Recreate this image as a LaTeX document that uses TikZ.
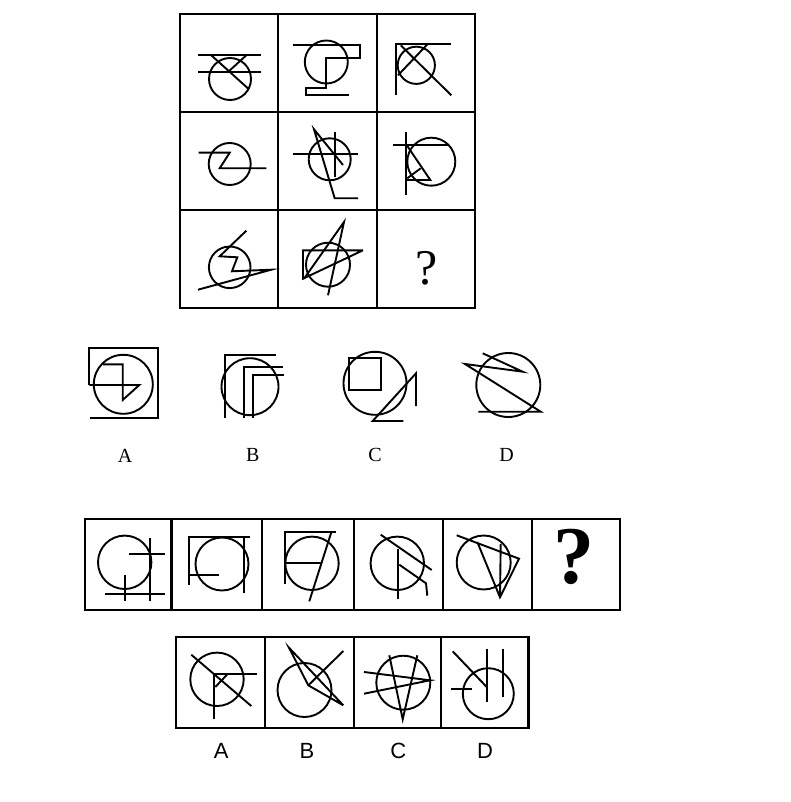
\documentclass[tikz,border=0pt]{standalone}
\usepackage{fontspec}
\setmainfont{Liberation Serif}
\newfontfamily\sansfam{Liberation Sans}
\tikzset{
	fig/.style={line width=1.9pt},
	cadre/.style={line width=2.1pt},
	etiq/.style={font=\fontsize{20}{24}\selectfont},
	etiqsans/.style={font=\sansfam\fontsize{22}{26}\selectfont}
}
\begin{document}
\begin{tikzpicture}[x=1pt,y=-1pt,line join=miter]
\useasboundingbox[fill=white] (0,0) rectangle (790,802);
%					Grille 3x3 :
\draw[cadre] (180,14) rectangle (475,308);
\foreach \x in {278.3,376.7} \draw[cadre] (\x,14) -- (\x,308);
\foreach \y in {112,210} \draw[cadre] (180,\y) -- (475,\y);
%					Ligne 1 :
\draw[fig] (230,79) circle (21);
\draw[fig] (198,55.3) -- (261,55.3);
\draw[fig] (198,72) -- (261,72);
\draw[fig] (211.3,55.3) -- (249,89.3);
\draw[fig] (246.3,55.3) -- (228,72);
\draw[fig] (326.3,62) circle (21.5);
\draw[fig] (293,45.3) -- (359.7,45.3) -- (359.7,57.7) -- (326.3,57.7) -- (326.3,88) -- (305.7,88) -- (305.7,95.3) -- (348.7,95.3);
\draw[fig] (416.3,65.3) circle (18.6);
\draw[fig] (396.3,95.3) -- (396.3,43.7) -- (451.3,43.7);
\draw[fig] (400.7,45.3) -- (451.3,95.3);
\draw[fig] (428,43.7) -- (398,75.3);
%					Ligne 2 :
\draw[fig] (229.7,164) circle (21);
\draw[fig] (198.7,152.7) -- (229.7,152.7) -- (219.7,168.3) -- (266.3,168.3);
\draw[fig] (329.7,159.3) circle (21);
\draw[fig] (293,154.3) -- (358,154.3);
\draw[fig] (334.7,131.7) -- (334.7,176.7);
\draw[fig] (343,165) -- (314,129.3) -- (334.7,198.3) -- (358,198.3);
\draw[fig] (431.3,161.7) circle (24);
\draw[fig] (405.7,131.7) -- (405.7,195);
\draw[fig] (393,145) -- (448,145);
\draw[fig] (407.3,146) -- (430.3,180) -- (405.7,180);
\draw[fig] (407.3,178.3) -- (420.7,168.3);
%					Ligne 3 :
\draw[fig] (229.7,267.3) circle (20.8);
\draw[fig] (246.3,230.7) -- (219.7,256.3) -- (237.3,257.3) -- (232,271.3) -- (271.3,269.7) -- (198,289.7);
\draw[fig] (328,264.7) circle (22);
\draw[fig] (363,250.3) -- (303,250.3) -- (303,278.7) -- (363,250.3);
\draw[fig] (304,278.7) -- (344,222) -- (328,295.3);
\node[font=\fontsize{50}{56}\selectfont] (inconnu1) at (426.3,268.7) {?};
%					Choix A, B, C, D :
\draw[fig] (89.3,385) -- (89.3,348.3) -- (157.7,348.3) -- (157.7,417.7) -- (90,417.7);
\draw[fig] (123.3,384.3) circle (29.5);
\draw[fig] (103,364.3) -- (122.7,364.3) -- (122.7,400) -- (139.3,385) -- (89.3,385);
\draw[fig] (250,386.7) circle (28.5);
\draw[fig] (225,418.3) -- (225,355) -- (276,355);
\draw[fig] (244,418.3) -- (244,367.3) -- (283.3,367.3);
\draw[fig] (253.3,418.3) -- (253.3,375) -- (284,375);
\draw[fig] (375,383.3) circle (31.5);
\draw[fig] (349.3,358.3) rectangle (380.7,390);
\draw[fig] (416,406) -- (416,373.3) -- (372.7,421) -- (403.3,421);
\draw[fig] (508.3,385) circle (32);
\draw[fig] (482.7,353.3) -- (522.7,371.7) -- (465,364) -- (540.7,411.7) -- (478.3,411.7);
\node[etiq] (choixA) at (125,455.5) {A};
\node[etiq] (choixB) at (252.7,455) {B};
\node[etiq] (choixC) at (375,455) {C};
\node[etiq] (choixD) at (506.7,455) {D};
%					Suite de six cases :
\draw[cadre] (85,519) rectangle (620,610);
\foreach \x in {171.5,262,354,443,532} \draw[cadre] (\x,519) -- (\x,610);
\draw[fig] (124.7,562.3) circle (26.7);
\draw[fig] (150.3,538) -- (150.3,601.3);
\draw[fig] (128.7,554) -- (164.7,554);
\draw[fig] (104.7,594) -- (164.7,594);
\draw[fig] (124.7,574.7) -- (124.7,601.3);
\draw[fig] (222,564) circle (26.5);
\draw[fig] (189.3,584.7) -- (189.3,537.3) -- (250.3,537.3);
\draw[fig] (189.3,574.7) -- (219.3,574.7);
\draw[fig] (244.3,537.3) -- (244.3,593.3);
\draw[fig] (312,563.3) circle (26.7);
\draw[fig] (284.7,584) -- (284.7,532.3) -- (336,532.3);
\draw[fig] (284.7,563.3) -- (321.3,563.3);
\draw[fig] (331.3,532.3) -- (309.3,601.3);
\draw[fig] (397.3,563.3) circle (26.7);
\draw[fig] (380.7,534.7) -- (431.7,570);
\draw[fig] (398.3,549) -- (398.3,599);
\draw[fig] (399.3,564.7) -- (426,583.3) -- (427.3,595.7);
\draw[fig] (483.7,562.5) circle (27);
\draw[fig] (456.7,535.3) -- (519,558.7) -- (500,597.3) -- (477.3,542);
\draw[fig] (500,597.3) -- (500.7,544);
\node[font=\bfseries\fontsize{82}{88}\selectfont] (inconnu2) at (573.5,557) {?};
%					Choix du bas :
\draw[cadre] (176,637) rectangle (528.5,728);
\foreach \x in {264.7,354,441} \draw[cadre] (\x,637) -- (\x,728);
\draw[fig] (217,679.3) circle (26.7);
\draw[fig] (191.3,654.7) -- (251.3,706);
\draw[fig] (257,673.7) -- (213.7,673.7) -- (213.7,719.3);
\draw[fig] (215.3,687) -- (227,674.7);
\draw[fig] (304.5,690) circle (27);
\draw[fig] (343.3,705.3) -- (289,647.7) -- (308.3,685.3) -- (343.3,705.3);
\draw[fig] (343.3,651) -- (308.3,685.3);
\draw[fig] (403.3,682.7) circle (27);
\draw[fig] (389.3,655.3) -- (402.7,719.3) -- (417.3,655.3);
\draw[fig] (364,672) -- (430,680.3) -- (364,693.7);
\draw[fig] (488.3,693.7) circle (25.5);
\draw[fig] (452.7,651.3) -- (486.7,687);
\draw[fig] (486.7,648.7) -- (486.7,702);
\draw[fig] (503.3,648.7) -- (503.3,697);
\draw[fig] (450.7,688.7) -- (471.7,688.7);
\node[etiqsans] (basA) at (221.3,751) {A};
\node[etiqsans] (basB) at (307,751) {B};
\node[etiqsans] (basC) at (398.3,751) {C};
\node[etiqsans] (basD) at (485,751) {D};
\end{tikzpicture}
\end{document}
